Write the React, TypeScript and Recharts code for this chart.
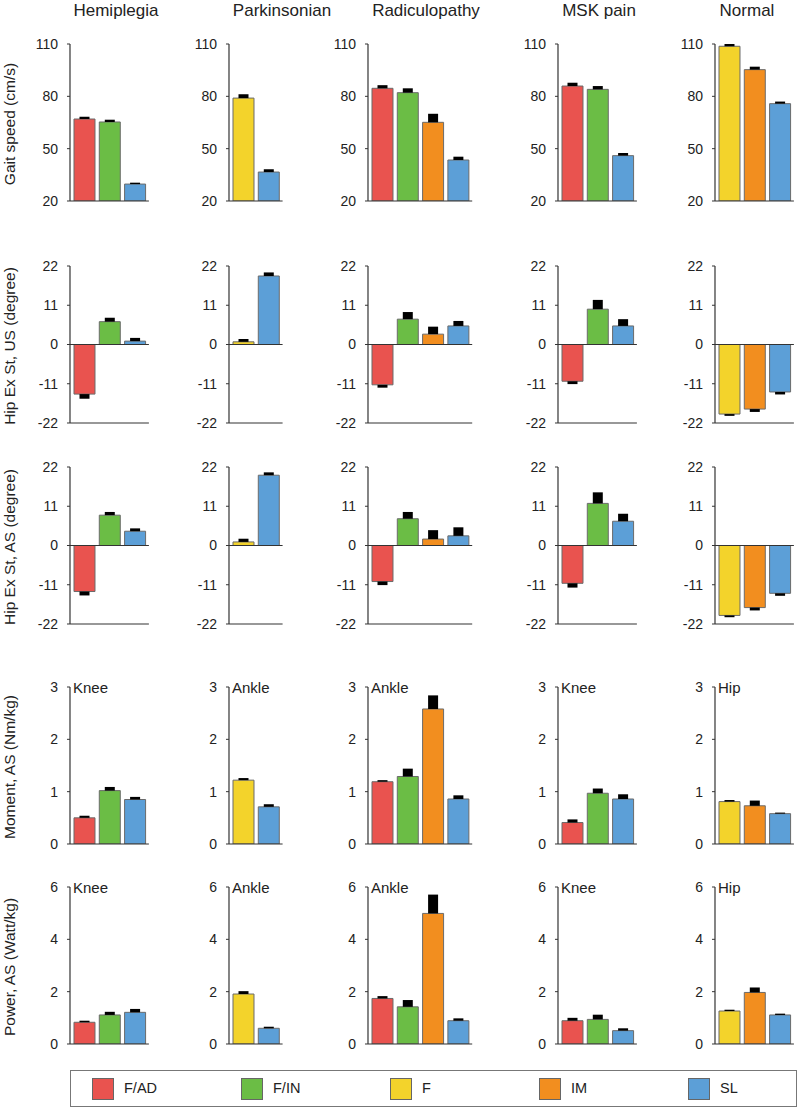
import React from 'react';
import { BarChart, Bar, XAxis, YAxis, ErrorBar, Cell, ReferenceLine } from 'recharts';

const FONT = '"Liberation Sans", Arial, sans-serif';

const conditions = ['Hemiplegia', 'Parkinsonian', 'Radiculopathy', 'MSK pain', 'Normal'];
const strategies = [
  ['F/AD', 'F/IN', 'SL'],
  ['F', 'SL'],
  ['F/AD', 'F/IN', 'IM', 'SL'],
  ['F/AD', 'F/IN', 'SL'],
  ['F', 'IM', 'SL'],
];
const legendItems = ['F/AD', 'F/IN', 'F', 'IM', 'SL'];
const joints = ['Knee', 'Ankle', 'Ankle', 'Knee', 'Hip'];

// mean values per condition, one inner list per condition
const gaitSpeed = [[67, 65.3, 29.7], [79, 36.6], [84.6, 82.1, 65.1, 43.5], [85.9, 84, 46], [108.7, 95.3, 75.8]];
const gaitSpeedSE = [[1.3, 1.3, 0.8], [2.2, 1.6], [1.8, 2.5, 4.9, 1.9], [1.9, 1.9, 1.5], [1.3, 1.7, 1.2]];

const hipUS = [[-13.9, 6.4, 0.95], [0.75, 19.2], [-11.3, 7.1, 2.9, 5.2], [-10.3, 9.9, 5.2], [-19.5, -18.1, -13.3]];
const hipUSSE = [[1.3, 1.1, 0.9], [0.8, 1.0], [0.8, 2.0, 2.1, 1.4], [0.8, 2.6, 1.9], [0.5, 0.8, 0.7]];

const hipAS = [[-12.9, 8.5, 4.0], [1.0, 19.7], [-10.1, 7.5, 1.8, 2.7], [-10.6, 11.8, 6.8], [-19.6, -17.4, -13.4]];
const hipASSE = [[1.1, 0.9, 0.8], [0.9, 0.8], [1.0, 1.9, 2.5, 2.4], [1.2, 3.1, 2.1], [0.5, 0.8, 0.7]];

const moment = [[0.5, 1.02, 0.85], [1.22, 0.71], [1.19, 1.29, 2.58, 0.86], [0.41, 0.97, 0.86], [0.81, 0.73, 0.58]];
const momentSE = [[0.04, 0.07, 0.05], [0.04, 0.05], [0.03, 0.15, 0.26, 0.07], [0.06, 0.09, 0.09], [0.03, 0.1, 0.02]];

const power = [[0.83, 1.11, 1.21], [1.91, 0.6], [1.74, 1.42, 4.99, 0.89], [0.89, 0.94, 0.51], [1.26, 1.97, 1.11]];
const powerSE = [[0.06, 0.12, 0.13], [0.11, 0.06], [0.09, 0.26, 0.72, 0.09], [0.11, 0.18, 0.09], [0.05, 0.19, 0.05]];

const gaitTicks = [20, 50, 80, 110];
const hipTicks = [-22, -11, 0, 11, 22];
const momentTicks = [0, 1, 2, 3];
const powerTicks = [0, 2, 4, 6];

const COLORS: Record<string, string> = {
  'F/AD': '#E9534F',
  'F/IN': '#6BBD45',
  F: '#F3D32B',
  IM: '#F28E1F',
  SL: '#5C9FD7',
};

const colX = [70, 229, 368, 558, 715];
const titleX = [116, 282, 426, 599, 747];
const SLOT = 25.3;

const rows = [
  { label: 'Gait speed (cm/s)', values: gaitSpeed, se: gaitSpeedSE, ticks: gaitTicks, top: 44, bottom: 201, zero: false, joint: false },
  { label: 'Hip Ex St, US (degree)', values: hipUS, se: hipUSSE, ticks: hipTicks, top: 266, bottom: 423, zero: true, joint: false },
  { label: 'Hip Ex St, AS (degree)', values: hipAS, se: hipASSE, ticks: hipTicks, top: 467, bottom: 624, zero: true, joint: false },
  { label: 'Moment, AS (Nm/kg)', values: moment, se: momentSE, ticks: momentTicks, top: 687, bottom: 844, zero: false, joint: true },
  { label: 'Power, AS (Watt/kg)', values: power, se: powerSE, ticks: powerTicks, top: 887, bottom: 1044, zero: false, joint: true },
];

function Panel({ row, col }: { row: (typeof rows)[number]; col: number }) {
  const cats = strategies[col];
  const data = cats.map((name, i) => {
    const v = row.values[col][i];
    const e = row.se[col][i];
    return { name, value: v, err: v >= 0 ? [0, e] : [e, 0] };
  });
  const plotW = 3 + cats.length * SLOT;
  const h = row.bottom - row.top;
  const width = 60 + plotW + 4;
  const height = 10 + h + 11;
  const ticks = row.ticks;
  return (
    <div style={{ position: 'absolute', left: colX[col] - 60, top: row.top - 10 }}>
      <BarChart width={width} height={height} data={data} margin={{ top: 10, right: 4, bottom: 10, left: 0 }}>
        <XAxis
          dataKey="name"
          type="category"
          height={1}
          tick={false}
          tickLine={false}
          padding={{ left: 2, right: 1 }}
          axisLine={{ stroke: '#333', strokeWidth: 1.2 }}
        />
        <YAxis
          type="number"
          width={60}
          domain={[ticks[0], ticks[ticks.length - 1]]}
          ticks={ticks}
          interval={0}
          allowDataOverflow
          tickSize={3}
          tickMargin={9}
          axisLine={{ stroke: '#333', strokeWidth: 1.2 }}
          tickLine={{ stroke: '#333' }}
          tick={{ fill: '#222', fontSize: 14, fontFamily: FONT }}
        />
        {row.zero && <ReferenceLine y={0} stroke="#333" strokeWidth={1.2} />}
        <Bar dataKey="value" barSize={21} stroke="#6a6a6a" strokeWidth={1} isAnimationActive={false}>
          {data.map((d) => (
            <Cell key={d.name} fill={COLORS[d.name]} />
          ))}
          <ErrorBar dataKey="err" direction="y" width={0} stroke="#000" strokeWidth={10} isAnimationActive={false} />
        </Bar>
      </BarChart>
    </div>
  );
}

export default function App() {
  return (
    <div style={{ position: 'absolute', left: 0, top: 0, width: 800, height: 1108, background: '#fff', fontFamily: FONT, color: '#222' }}>
      {conditions.map((c, i) => (
        <div
          key={c}
          style={{ position: 'absolute', left: titleX[i] - 80, width: 160, top: 2, textAlign: 'center', fontSize: 17, lineHeight: '17px' }}
        >
          {c}
        </div>
      ))}

      {rows.map((row, r) => (
        <React.Fragment key={row.label}>
          <div
            style={{
              position: 'absolute',
              left: 10 - 110,
              width: 220,
              top: (row.top + row.bottom) / 2 + 1 - 9,
              height: 18,
              lineHeight: '18px',
              textAlign: 'center',
              fontSize: 15.5,
              transform: 'rotate(-90deg)',
              whiteSpace: 'nowrap',
            }}
          >
            {row.label}
          </div>
          {conditions.map((c, col) => (
            <Panel key={c + r} row={row} col={col} />
          ))}
          {row.joint &&
            joints.map((j, col) => (
              <div
                key={j + col}
                style={{ position: 'absolute', left: colX[col] + 3, top: row.top - 7, fontSize: 15, lineHeight: '15px' }}
              >
                {j}
              </div>
            ))}
        </React.Fragment>
      ))}

      <div
        style={{
          position: 'absolute',
          left: 70,
          top: 1070,
          width: 725,
          height: 35,
          border: '1px solid #777',
        }}
      >
        {legendItems.map((k, i) => (
          <React.Fragment key={k}>
            <div
              style={{
                position: 'absolute',
                left: 21 + i * 149,
                top: 7,
                width: 20,
                height: 20,
                background: COLORS[k],
                border: '1px solid #666',
              }}
            />
            <div style={{ position: 'absolute', left: 53 + i * 149, top: 9, fontSize: 14.5, lineHeight: '17px' }}>{k}</div>
          </React.Fragment>
        ))}
      </div>
    </div>
  );
}
